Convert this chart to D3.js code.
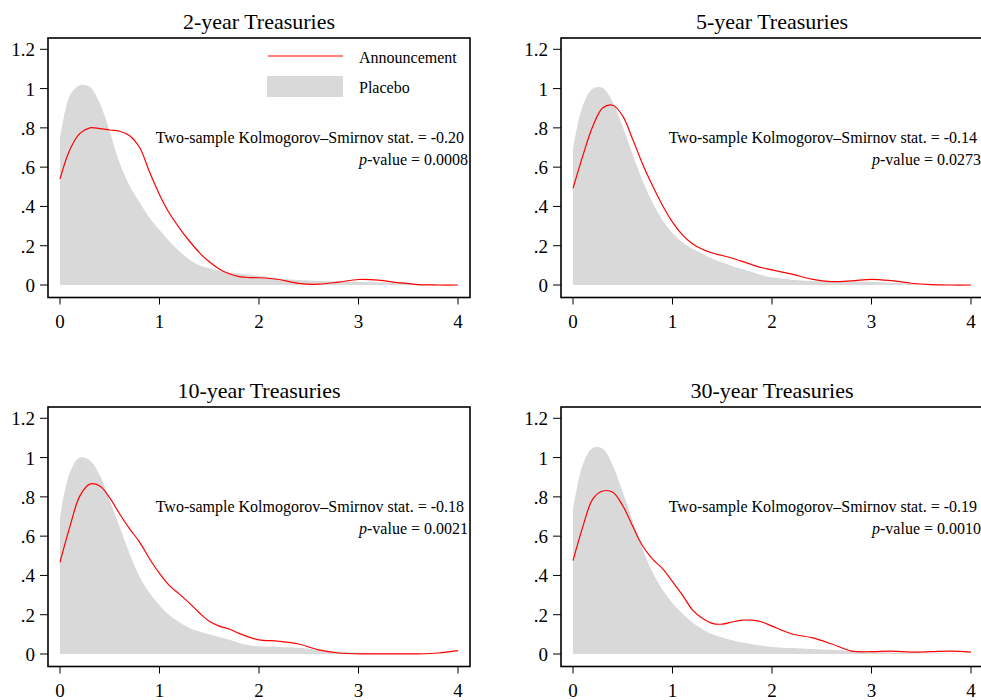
<!DOCTYPE html>
<html>
<head>
<meta charset="utf-8">
<script src="https://cdn.jsdelivr.net/npm/d3@7/dist/d3.min.js"></script>
<style>
  body { margin: 0; background: #fff; }
  svg text { font-family: "Liberation Serif", "Times New Roman", serif; fill: #000; }
</style>
</head>
<body>
<svg id="chart" width="981" height="700"></svg>
<script>
// x grid the densities were read on
const xs = [0, .1, .2, .3, .4, .5, .6, .7, .8, .9, 1.0, 1.1, 1.2, 1.3, 1.4, 1.5, 1.6, 1.7, 1.8, 1.9, 2.0,
            2.2, 2.4, 2.6, 2.8, 3.0, 3.2, 3.4, 3.6, 3.8, 4.0];

const titles = ["2-year Treasuries", "5-year Treasuries", "10-year Treasuries", "30-year Treasuries"];
const ksStats = ["-0.20", "-0.14", "-0.18", "-0.19"];
const pValues = ["0.0008", "0.0273", "0.0021", "0.0010"];

// placebo densities (grey area)
const placebo2 = [0.747, 0.965, 1.017, 1.008, 0.925, 0.78, 0.62, 0.505, 0.42, 0.342, 0.28, 0.222, 0.172, 0.13, 0.1, 0.085, 0.073, 0.065, 0.058, 0.052, 0.047,
                  0.033, 0.025, 0.021, 0.018, 0.017, 0.014, 0.011, 0.005, 0.001, 0];
const placebo5 = [0.696, 0.915, 1.0, 1.003, 0.93, 0.806, 0.665, 0.531, 0.42, 0.33, 0.265, 0.218, 0.184, 0.16, 0.134, 0.114, 0.096, 0.082, 0.066, 0.05, 0.039,
                  0.027, 0.021, 0.019, 0.018, 0.017, 0.011, 0.006, 0.002, 0.001, 0];
const placebo10 = [0.696, 0.925, 1.0, 0.985, 0.91, 0.78, 0.647, 0.511, 0.393, 0.31, 0.248, 0.197, 0.162, 0.133, 0.114, 0.1, 0.086, 0.072, 0.056, 0.044, 0.039,
                   0.036, 0.032, 0.021, 0.013, 0.008, 0.005, 0.003, 0.002, 0.001, 0];
const placebo30 = [0.738, 0.965, 1.05, 1.045, 0.96, 0.823, 0.679, 0.535, 0.416, 0.327, 0.258, 0.206, 0.16, 0.126, 0.1, 0.084, 0.07, 0.058, 0.05, 0.042, 0.036,
                   0.03, 0.026, 0.022, 0.017, 0.012, 0.008, 0.004, 0.002, 0.001, 0];

// announcement densities (red line)
const announce2 = [0.54, 0.69, 0.772, 0.8, 0.796, 0.789, 0.783, 0.76, 0.70, 0.575, 0.46, 0.365, 0.29, 0.224, 0.165, 0.118, 0.082, 0.057, 0.043, 0.038, 0.037,
                   0.028, 0.008, 0.004, 0.015, 0.028, 0.025, 0.012, 0.002, 0, 0];
const announce5 = [0.492, 0.66, 0.81, 0.902, 0.915, 0.86, 0.742, 0.615, 0.505, 0.405, 0.32, 0.255, 0.21, 0.182, 0.163, 0.15, 0.136, 0.12, 0.103, 0.088, 0.077,
                   0.055, 0.03, 0.017, 0.021, 0.029, 0.022, 0.009, 0.002, 0, 0];
const announce10 = [0.467, 0.65, 0.805, 0.865, 0.855, 0.795, 0.713, 0.637, 0.57, 0.485, 0.41, 0.348, 0.305, 0.259, 0.21, 0.167, 0.142, 0.127, 0.105, 0.086, 0.072,
                    0.065, 0.051, 0.021, 0.005, 0.001, 0.001, 0.001, 0.001, 0.005, 0.017];
const announce30 = [0.475, 0.65, 0.79, 0.83, 0.823, 0.755, 0.65, 0.55, 0.483, 0.435, 0.368, 0.3, 0.225, 0.182, 0.156, 0.152, 0.163, 0.172, 0.172, 0.163, 0.142,
                    0.102, 0.083, 0.051, 0.015, 0.012, 0.015, 0.01, 0.012, 0.015, 0.01];

const xTicks = [0, 1, 2, 3, 4];
const yTicks = [0, .2, .4, .6, .8, 1, 1.2];
const yTickLabels = ["0", ".2", ".4", ".6", ".8", "1", "1.2"];

const placebos = [placebo2, placebo5, placebo10, placebo30];
const announces = [announce2, announce5, announce10, announce30];

const svg = d3.select("#chart");

// panel offsets (2 x 2)
const offX = [0, 513];
const offY = [0, 369];

// scales are the same in every panel
const x = d3.scaleLinear().domain([0, 4]).range([60, 458]);
const y = d3.scaleLinear().domain([0, 1.2]).range([285, 49.3]);
const frame = {left: 48, right: 470, top: 38, bottom: 297.5};

const area = d3.area()
    .x((d, i) => x(xs[i]))
    .y0(y(0))
    .y1(d => y(d))
    .curve(d3.curveCatmullRom);

const line = d3.line()
    .x((d, i) => x(xs[i]))
    .y(d => y(d))
    .curve(d3.curveCatmullRom);

titles.forEach(function (t, k) {
    const g = svg.append("g")
        .attr("transform", "translate(" + offX[k % 2] + "," + offY[Math.floor(k / 2)] + ")");

    // title
    g.append("text")
        .attr("x", (frame.left + frame.right) / 2)
        .attr("y", 29)
        .attr("text-anchor", "middle")
        .attr("font-size", "22px")
        .text(t);

    // placebo density
    g.append("path")
        .attr("d", area(placebos[k]))
        .style("fill", "#d9d9d9");

    // announcement density
    g.append("path")
        .attr("d", line(announces[k]))
        .style("fill", "none")
        .style("stroke", "#ff0000")
        .style("stroke-width", 1.2);

    // frame
    g.append("rect")
        .attr("x", frame.left)
        .attr("y", frame.top)
        .attr("width", frame.right - frame.left)
        .attr("height", frame.bottom - frame.top)
        .style("fill", "none")
        .style("stroke", "#000")
        .style("stroke-width", 1.6);

    // y ticks
    yTicks.forEach(function (v, i) {
        g.append("line")
            .attr("x1", 40).attr("x2", frame.left)
            .attr("y1", y(v)).attr("y2", y(v))
            .style("stroke", "#000").style("stroke-width", 1);
        g.append("text")
            .attr("x", 35)
            .attr("y", y(v) + 7)
            .attr("text-anchor", "end")
            .attr("font-size", "19px")
            .text(yTickLabels[i]);
    });

    // x ticks
    xTicks.forEach(function (v) {
        g.append("line")
            .attr("x1", x(v)).attr("x2", x(v))
            .attr("y1", frame.bottom).attr("y2", frame.bottom + 7)
            .style("stroke", "#000").style("stroke-width", 1);
        g.append("text")
            .attr("x", x(v))
            .attr("y", 328)
            .attr("text-anchor", "middle")
            .attr("font-size", "19px")
            .text(v);
    });

    // KS test text
    g.append("text")
        .attr("x", 464)
        .attr("y", 143)
        .attr("text-anchor", "end")
        .attr("font-size", "16px")
        .text("Two-sample Kolmogorov\u2013Smirnov stat. = " + ksStats[k]);

    const pv = g.append("text")
        .attr("x", 468)
        .attr("y", 165)
        .attr("text-anchor", "end")
        .attr("font-size", "16px");
    pv.append("tspan").style("font-style", "italic").text("p");
    pv.append("tspan").text("-value = " + pValues[k]);

    // legend only in the first panel
    if (k === 0) {
        g.append("line")
            .attr("x1", 268).attr("x2", 343)
            .attr("y1", 56).attr("y2", 56)
            .style("stroke", "#ff0000").style("stroke-width", 1.2);
        g.append("rect")
            .attr("x", 267).attr("y", 76)
            .attr("width", 76).attr("height", 21)
            .style("fill", "#d9d9d9");
        g.append("text")
            .attr("x", 359).attr("y", 63)
            .attr("font-size", "16px")
            .text("Announcement");
        g.append("text")
            .attr("x", 359).attr("y", 93)
            .attr("font-size", "16px")
            .text("Placebo");
    }
});
</script>
</body>
</html>
